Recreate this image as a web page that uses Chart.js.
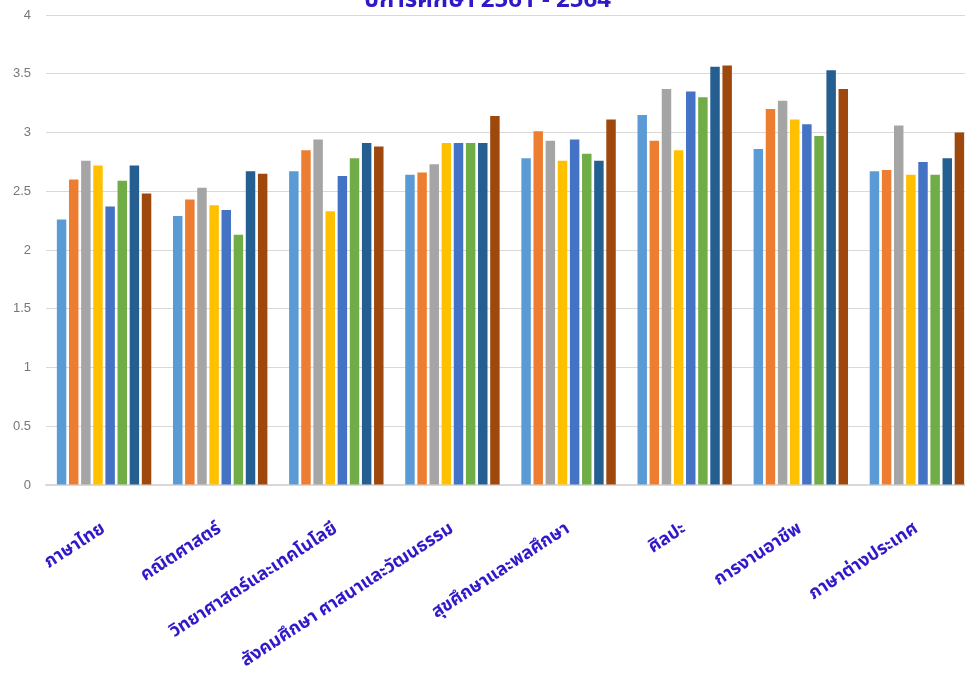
<!DOCTYPE html>
<html>
<head>
<meta charset="utf-8">
<script src="https://cdn.jsdelivr.net/npm/chart.js@4"></script>
<style>
  html, body { margin: 0; padding: 0; background: #fff; overflow: hidden; }
  #wrap { position: absolute; left: 0; top: 0; width: 990px; height: 684px; }
</style>
</head>
<body>
<div id="wrap"><canvas id="myChart" width="990" height="684"></canvas></div>
<script>
// ===============================
// DATA
// ===============================
const subjects = [
    'ภาษาไทย',
    'คณิตศาสตร์',
    'วิทยาศาสตร์และเทคโนโลยี',
    'สังคมศึกษา ศาสนาและวัฒนธรรม',
    'สุขศึกษาและพลศึกษา',
    'ศิลปะ',
    'การงานอาชีพ',
    'ภาษาต่างประเทศ'
];

const seriesNames = ['2561/1', '2561/2', '2562/1', '2562/2', '2563/1', '2563/2', '2564/1', '2564/2'];

const s1 = [2.26, 2.29, 2.67, 2.64, 2.78, 3.15, 2.86, 2.67];
const s2 = [2.60, 2.43, 2.85, 2.66, 3.01, 2.93, 3.20, 2.68];
const s3 = [2.76, 2.53, 2.94, 2.73, 2.93, 3.37, 3.27, 3.06];
const s4 = [2.72, 2.38, 2.33, 2.91, 2.76, 2.85, 3.11, 2.64];
const s5 = [2.37, 2.34, 2.63, 2.91, 2.94, 3.35, 3.07, 2.75];
const s6 = [2.59, 2.13, 2.78, 2.91, 2.82, 3.30, 2.97, 2.64];
const s7 = [2.72, 2.67, 2.91, 2.91, 2.76, 3.56, 3.53, 2.78];
const s8 = [2.48, 2.65, 2.88, 3.14, 3.11, 3.57, 3.37, 3.00];

const allSeries = [s1, s2, s3, s4, s5, s6, s7, s8];
const colors = ['#5B9BD5', '#ED7D31', '#A5A5A5', '#FFC000', '#4472C4', '#70AD47', '#255E91', '#9E480E'];

const titleText = 'ปีการศึกษา 2561 - 2564';
const thaiFont = "'Noto Sans Thai', 'Noto Sans', 'DejaVu Sans', sans-serif";
const labelBlue = '#3019C8';

// ===============================
// CHART
// ===============================
const ctx = document.getElementById('myChart').getContext('2d');

new Chart(ctx, {
    type: 'bar',
    data: {
        labels: subjects,
        datasets: allSeries.map((vals, i) => ({
            label: seriesNames[i],
            data: vals,
            backgroundColor: colors[i],
            borderWidth: 0,
            categoryPercentage: 0.836,
            barPercentage: 0.78
        }))
    },
    options: {
        responsive: false,
        animation: false,
        layout: { padding: { left: 0, right: 15, top: 0, bottom: 0 } },
        plugins: {
            legend: { display: false },
            tooltip: { enabled: false },
            title: {
                display: true,
                text: titleText,
                color: labelBlue,
                font: { family: thaiFont, size: 24, weight: 'bold' },
                padding: { top: -21.6, bottom: -2 }
            }
        },
        scales: {
            x: {
                grid: { display: false },
                border: { color: '#D9D9D9', width: 1.5 },
                ticks: {
                    autoSkip: false,
                    minRotation: 33,
                    maxRotation: 33,
                    padding: 26,
                    color: labelBlue,
                    font: { family: thaiFont, size: 18, weight: 'bold' }
                },
                afterFit: scale => { scale.height = 199; }
            },
            y: {
                min: 0,
                max: 4,
                border: { display: false },
                grid: { color: '#D9D9D9', lineWidth: 1, drawTicks: false },
                ticks: {
                    stepSize: 0.5,
                    padding: 15,
                    color: '#777777',
                    font: { family: "'Liberation Sans', sans-serif", size: 13 },
                    callback: v => String(v)
                },
                afterFit: scale => {
                    scale.width = 46;
                    scale.paddingTop = 15;
                    scale.paddingBottom = 0;
                }
            }
        }
    }
});
</script>
</body>
</html>
